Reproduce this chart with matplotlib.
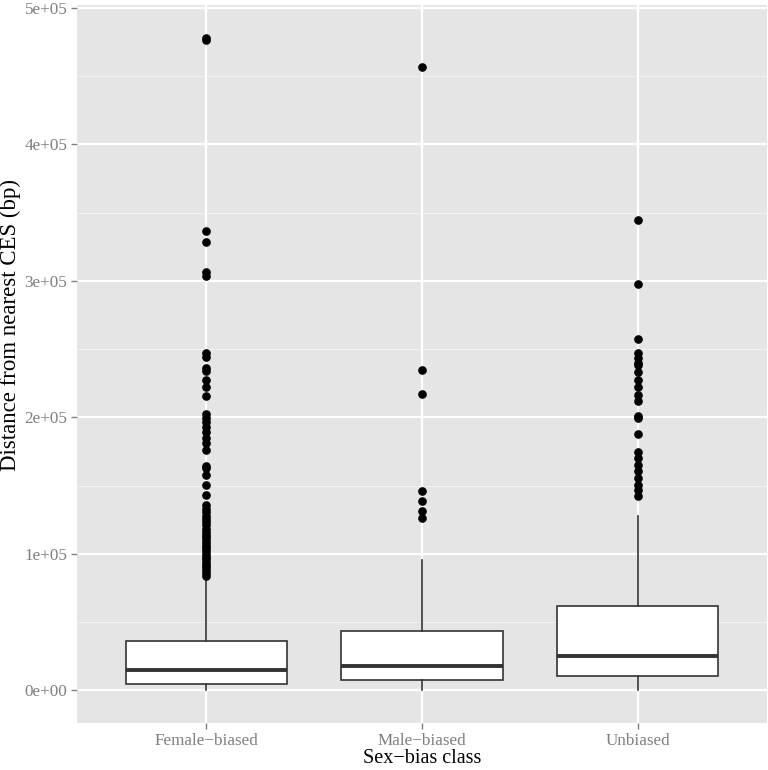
import numpy as np
import matplotlib
matplotlib.use("Agg")
import matplotlib.pyplot as plt
from matplotlib.ticker import MultipleLocator, FuncFormatter

plt.rcParams['font.family'] = ['Liberation Serif', 'DejaVu Serif']

CLASSES = ["Female\u2212biased", "Male\u2212biased", "Unbiased"]

# box statistics (bp)
Q1 = [4900, 7800, 10500]
MEDIANS = [14900, 17900, 24900]
Q3 = [35900, 43200, 61500]
WHISK_LO = [0, 0, 0]
WHISK_HI = [81500, 95700, 128000]

FEMALE_OUT = [478000, 476000, 336300, 328500, 306500, 303500, 247000, 244000,
              236200, 233700, 227600, 222000, 215900, 202500, 199600, 196300,
              193000, 189000, 184900, 181200, 176300, 164100, 162600, 158000,
              150700, 142900, 136000, 133000, 130500, 128000, 125500, 123000,
              121000, 118500, 116000, 114000, 112000, 110000, 108000, 106000,
              104000, 102000, 100000, 98000, 96000, 94000, 92000, 90000,
              88000, 86000, 84000]
MALE_OUT = [456400, 234300, 216900, 146300, 138500, 131100, 126300]
UNBIASED_OUT = [344300, 298000, 257700, 247200, 243500, 240000, 238600,
                233000, 227600, 222300, 216600, 211700, 200700, 199600,
                188000, 174400, 170300, 165300, 160400, 155600, 150700,
                147000, 142100]
OUTLIERS = [FEMALE_OUT, MALE_OUT, UNBIASED_OUT]

stats = []
for i in range(len(CLASSES)):
    stats.append({
        "label": CLASSES[i],
        "q1": Q1[i], "med": MEDIANS[i], "q3": Q3[i],
        "whislo": WHISK_LO[i], "whishi": WHISK_HI[i],
        "fliers": np.array(OUTLIERS[i]),
    })

fig = plt.figure(figsize=(7.68, 7.70), dpi=100)
ax = fig.add_axes([77 / 768, 1 - 723 / 770, 690 / 768, 718 / 770])
ax.set_facecolor("#E5E5E5")

line_col = "#333333"
ax.bxp(stats, positions=[1, 2, 3], widths=0.75, showcaps=False,
       patch_artist=True,
       boxprops=dict(facecolor="white", edgecolor=line_col, linewidth=1.2),
       medianprops=dict(color=line_col, linewidth=2.8),
       whiskerprops=dict(color=line_col, linewidth=1.2),
       flierprops=dict(marker="o", markerfacecolor="black",
                       markeredgecolor="black", markersize=5.2),
       zorder=3)

ax.set_xlim(0.4, 3.6)
ax.set_ylim(-23900, 502000)
ax.yaxis.set_major_locator(MultipleLocator(100000))
ax.yaxis.set_minor_locator(MultipleLocator(50000))
ax.yaxis.set_major_formatter(FuncFormatter(
    lambda v, p: "%de+%02d" % (int(round(v / 1e5)), 5 if v != 0 else 0)))

ax.grid(which="major", color="white", linewidth=1.6, zorder=0)
ax.grid(which="minor", axis="y", color="#F2F2F2", linewidth=0.8, zorder=0)
ax.set_axisbelow(True)
for s in ax.spines.values():
    s.set_visible(False)

ax.tick_params(axis="both", which="major", length=4, width=1,
               color="#7F7F7F", labelcolor="#7F7F7F", labelsize=12.3, pad=3)
ax.tick_params(axis="y", which="minor", length=0)

ax.set_xlabel("Sex\u2212bias class", fontsize=14.5, labelpad=0)
ax.set_ylabel("Distance from nearest CES (bp)", fontsize=16.5)
ax.yaxis.set_label_coords(-0.081, 0.555)

fig.savefig("out.png", dpi=100)
